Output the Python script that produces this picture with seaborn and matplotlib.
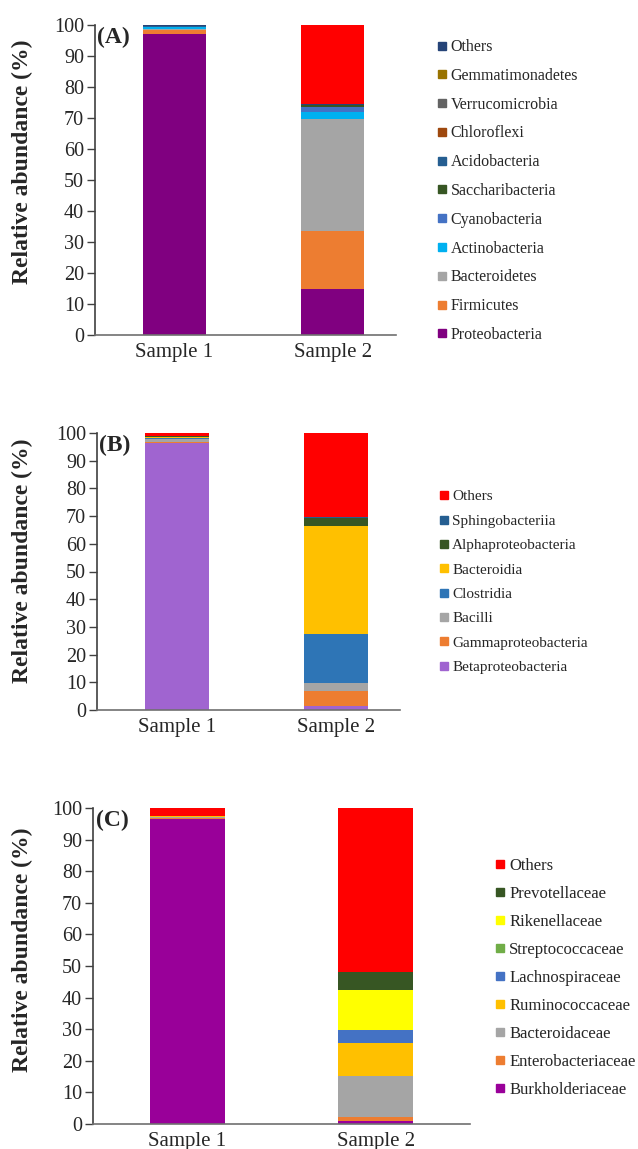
import numpy as np
import pandas as pd
import seaborn as sns
import matplotlib.pyplot as plt
from matplotlib.lines import Line2D

samples = ["Sample 1", "Sample 2"]

# (A) phylum level, listed bottom -> top of the stack
phyla = ["Proteobacteria", "Firmicutes", "Bacteroidetes", "Actinobacteria",
         "Cyanobacteria", "Saccharibacteria", "Acidobacteria", "Chloroflexi",
         "Verrucomicrobia", "Gemmatimonadetes", "Others", "Unclassified"]
phyla_s1 = [97.1, 1.3, 0.2, 0.6, 0.1, 0.05, 0.3, 0.05, 0.05, 0.05, 0.2, 0.0]
phyla_s2 = [14.7, 18.9, 36.0, 2.4, 1.6, 0.5, 0.1, 0.05, 0.05, 0.05, 0.05, 25.6]
phyla_colors = ["#800080", "#ED7D31", "#A5A5A5", "#00B0F0", "#4472C4", "#375623",
                "#255E91", "#9E480E", "#636363", "#997300", "#264478", "#FF0000"]

# (B) class level
classes = ["Betaproteobacteria", "Gammaproteobacteria", "Bacilli", "Clostridia",
           "Bacteroidia", "Alphaproteobacteria", "Sphingobacteriia", "Others"]
classes_s1 = [96.4, 0.3, 1.3, 0.2, 0.3, 0.3, 0.2, 1.0]
classes_s2 = [1.4, 5.4, 2.9, 17.6, 39.2, 2.9, 0.1, 30.5]
classes_colors = ["#A064D0", "#ED7D31", "#A5A5A5", "#2E75B6", "#FFC000", "#375623",
                  "#255E91", "#FF0000"]

# (C) family level
families = ["Burkholderiaceae", "Enterobacteriaceae", "Bacteroidaceae", "Ruminococcaceae",
            "Lachnospiraceae", "Streptococcaceae", "Rikenellaceae", "Prevotellaceae", "Others"]
families_s1 = [96.5, 0.2, 0.6, 0.05, 0.05, 0.05, 0.05, 0.05, 2.45]
families_s2 = [0.8, 1.4, 13.0, 10.3, 4.2, 0.1, 12.5, 5.8, 51.9]
families_colors = ["#990099", "#ED7D31", "#A5A5A5", "#FFC000", "#4472C4", "#70AD47",
                   "#FFFF00", "#375623", "#FF0000"]

sns.set_style("white")
plt.rcParams["font.family"] = ["Liberation Serif", "DejaVu Serif"]

W, H = 638, 1149
fig = plt.figure(figsize=(W / 100, H / 100), dpi=100)


def px_axes(left, top, right, bottom):
    return fig.add_axes([left / W, 1 - bottom / H, (right - left) / W, (bottom - top) / H])


def stacked(ax, names, s1, s2, colors, tag, xmax, label_y, leg_x, leg_y, leg_fs, leg_sp):
    df = pd.DataFrame({"taxon": names, "Sample 1": s1, "Sample 2": s2})
    cum = df[samples].cumsum()
    # draw the tallest cumulative bar first so lower layers sit on top
    for i in range(len(names) - 1, -1, -1):
        sns.barplot(x=samples, y=cum.iloc[i].values, color=colors[i], saturation=1,
                    width=0.4, linewidth=0, errorbar=None, ax=ax)
    ax.set_xlim(-0.5, xmax)
    ax.set_ylim(0, 100)
    ax.set_yticks(np.arange(0, 101, 10))
    ax.set_xlabel("")
    ax.set_ylabel("Relative abundance (%)", fontsize=17, fontweight="bold")
    pos = ax.get_position()
    ax.yaxis.set_label_coords((33 / W - pos.x0) / pos.width, label_y)
    ax.tick_params(axis="y", length=6, width=1, color="#404040", labelsize=14.5, pad=2, left=True)
    ax.tick_params(axis="x", length=0, labelsize=15, pad=6)
    for s in ["top", "right"]:
        ax.spines[s].set_visible(False)
    ax.spines["left"].set_color("#404040")
    ax.spines["bottom"].set_color("#707070")
    ax.spines["left"].set_linewidth(1.2)
    ax.spines["bottom"].set_linewidth(1.2)
    ax.text(0.008, 0.995, tag, transform=ax.transAxes, ha="left", va="top",
            fontsize=17, fontweight="bold")

    handles, labels = [], []
    for n, c in zip(names[::-1], colors[::-1]):
        if n == "Unclassified":
            continue
        handles.append(Line2D([], [], marker="s", ls="", color=c, markersize=5.5))
        labels.append(n)
    fig.legend(handles, labels, loc="center left", bbox_to_anchor=(leg_x / W, 1 - leg_y / H),
               frameon=False, fontsize=leg_fs, labelspacing=leg_sp, handlelength=0.5,
               handletextpad=0.3, borderpad=0, borderaxespad=0)


ax_a = px_axes(95, 25, 396, 335)
stacked(ax_a, phyla, phyla_s1, phyla_s2, phyla_colors, "(A)", 1.4, 0.56, 438, 191, 11.5, 0.8)

ax_b = px_axes(97, 433, 400, 710)
stacked(ax_b, classes, classes_s1, classes_s2, classes_colors, "(B)", 1.4, 0.54, 440, 582, 11, 0.7)

ax_c = px_axes(93, 808, 470, 1124)
stacked(ax_c, families, families_s1, families_s2, families_colors, "(C)", 1.5, 0.55, 496, 978, 12, 0.72)

fig.savefig("out.png", dpi=100)
